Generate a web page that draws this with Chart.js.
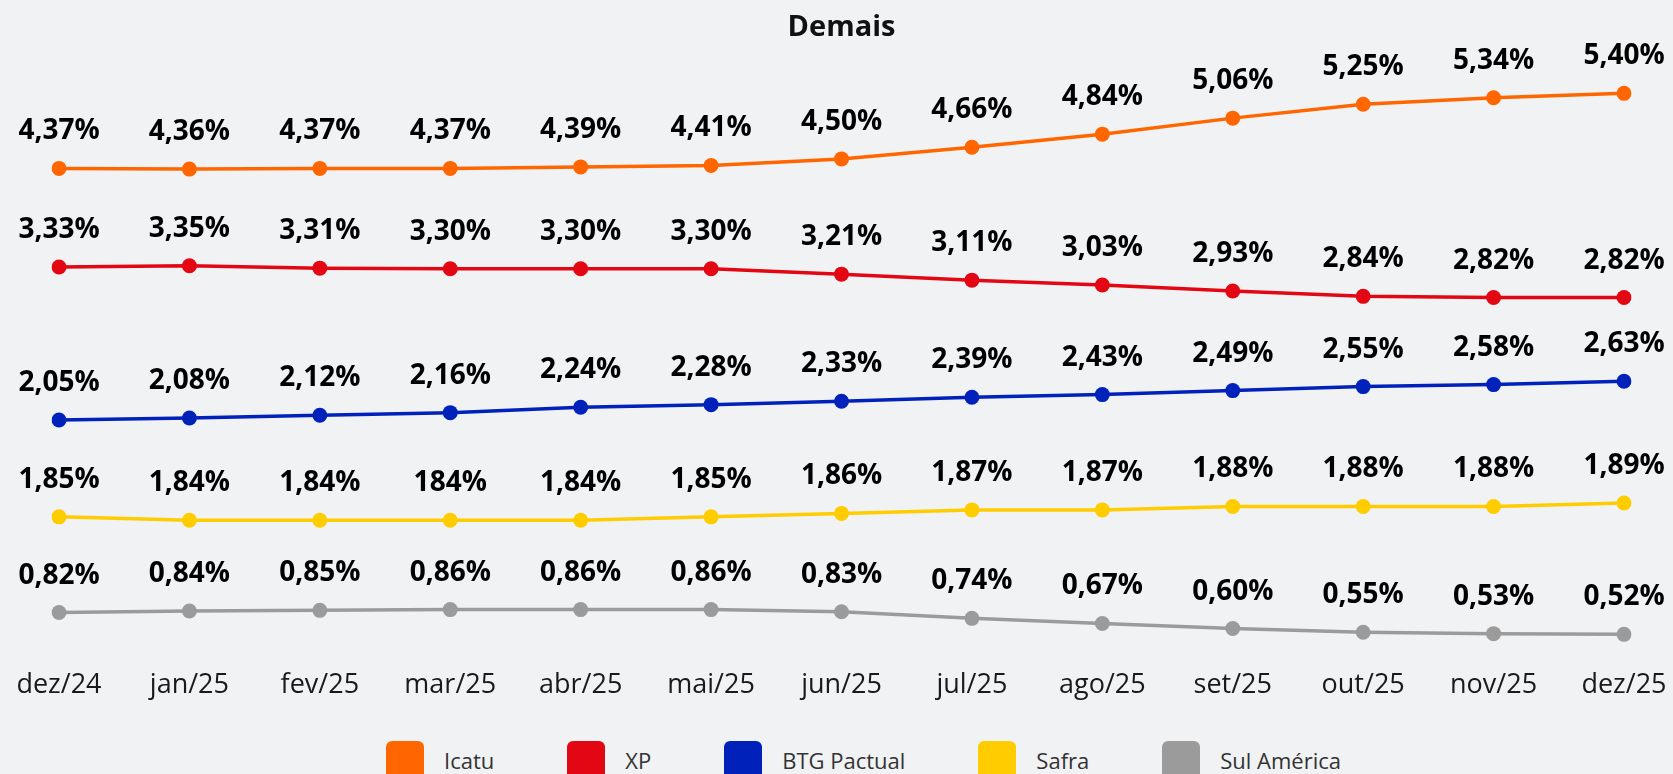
<!DOCTYPE html>
<html lang="pt-BR">
<head>
<meta charset="utf-8">
<title>Demais</title>
<script src="https://cdn.jsdelivr.net/npm/chart.js@4/dist/chart.umd.min.js"></script>
<style>
  html, body { margin: 0; padding: 0; background: #f1f2f4; overflow: hidden; }
  #wrap { position: relative; width: 1673px; height: 774px; }
  #legenda {
    position: absolute; left: 386px; top: 741px;
    display: flex; gap: 73px;
    font-family: "Open Sans", sans-serif; font-size: 22px; color: #333;
  }
  #legenda .item { display: flex; align-items: center; }
  #legenda .caixa { width: 38px; height: 38px; border-radius: 6px; margin-right: 20px; }
</style>
</head>
<body>
<div id="wrap">
  <canvas id="grafico" width="1673" height="735"></canvas>
  <div id="legenda"></div>
</div>
<script>
// meses do eixo x
var meses = ["dez/24", "jan/25", "fev/25", "mar/25", "abr/25", "mai/25", "jun/25",
             "jul/25", "ago/25", "set/25", "out/25", "nov/25", "dez/25"];

// valores (%) de cada seguradora
var icatu = [4.37, 4.36, 4.37, 4.37, 4.39, 4.41, 4.50, 4.66, 4.84, 5.06, 5.25, 5.34, 5.40];
var xp = [3.33, 3.35, 3.31, 3.30, 3.30, 3.30, 3.21, 3.11, 3.03, 2.93, 2.84, 2.82, 2.82];
var btg = [2.05, 2.08, 2.12, 2.16, 2.24, 2.28, 2.33, 2.39, 2.43, 2.49, 2.55, 2.58, 2.63];
var safra = [1.85, 1.84, 1.84, 1.84, 1.84, 1.85, 1.86, 1.87, 1.87, 1.88, 1.88, 1.88, 1.89];
var sulAmerica = [0.82, 0.84, 0.85, 0.86, 0.86, 0.86, 0.83, 0.74, 0.67, 0.60, 0.55, 0.53, 0.52];

// no original o rótulo de mar/25 da Safra saiu sem vírgula
var safraRotulos = safra.map(function (v) { return v.toFixed(2).replace(".", ",") + "%"; });
safraRotulos[3] = "184%";

var nomes = ["Icatu", "XP", "BTG Pactual", "Safra", "Sul América"];
var cores = ["#ff6600", "#e30613", "#0022bb", "#ffcc00", "#9b9b9b"];

function fmt(v) { return v.toFixed(2).replace(".", ",") + "%"; }

function serie(i, dados, eixo, rotulos) {
    return {
        label: nomes[i],
        data: dados,
        yAxisID: eixo,
        rotulos: rotulos || dados.map(fmt),
        borderColor: cores[i],
        backgroundColor: cores[i],
        borderWidth: 3.5,
        pointRadius: 7.5,
        pointHoverRadius: 7.5,
        pointBorderWidth: 0,
        tension: 0
    };
}

// cada série tem o seu próprio eixo (escondido), como no gráfico original
function eixoY(min, max) {
    return { display: false, min: min, max: max };
}

// desenha os valores em cima dos pontos
var rotulosPlugin = {
    id: "rotulos",
    afterDatasetsDraw: function (chart) {
        var c = chart.ctx;
        c.save();
        c.font = "bold 28px 'Open Sans', sans-serif";
        c.fillStyle = "#000";
        c.textAlign = "center";
        c.textBaseline = "alphabetic";
        chart.data.datasets.forEach(function (ds, i) {
            chart.getDatasetMeta(i).data.forEach(function (pt, j) {
                c.fillText(ds.rotulos[j], pt.x, pt.y - 29);
            });
        });
        c.restore();
    }
};

var ctx = document.getElementById("grafico");

var grafico = new Chart(ctx, {
    type: "line",
    data: {
        labels: meses,
        datasets: [
            serie(0, icatu, "yIcatu"),
            serie(1, xp, "yXp"),
            serie(2, btg, "yBtg"),
            serie(3, safra, "ySafra", safraRotulos),
            serie(4, sulAmerica, "ySul")
        ]
    },
    options: {
        responsive: false,
        animation: false,
        layout: {
            padding: { left: 59, right: 49, top: 0, bottom: 16 }
        },
        plugins: {
            legend: { display: false },
            tooltip: { enabled: false },
            title: {
                display: true,
                text: "Demais",
                color: "#111",
                font: { family: "'Open Sans', sans-serif", size: 29, weight: "bold" },
                padding: { top: 10, bottom: 7.5 }
            }
        },
        scales: {
            x: {
                grid: { display: false, drawTicks: false },
                border: { display: false },
                ticks: {
                    color: "#1a1a1a",
                    padding: 5,
                    maxRotation: 0,
                    autoSkip: false,
                    font: { family: "'Open Sans', sans-serif", size: 27, lineHeight: 2.1 }
                }
            },
            yIcatu: eixoY(-2.275, 5.964),
            yXp: eixoY(-3.094, 6.909),
            yBtg: eixoY(-1.430, 7.558),
            ySafra: eixoY(1.4584, 3.1929),
            ySul: eixoY(0.2738, 8.5126)
        }
    },
    plugins: [rotulosPlugin]
});

// legenda em html, abaixo do gráfico
var legenda = document.getElementById("legenda");
nomes.forEach(function (n, i) {
    var item = document.createElement("div");
    item.className = "item";
    var caixa = document.createElement("span");
    caixa.className = "caixa";
    caixa.style.background = cores[i];
    var txt = document.createElement("span");
    txt.textContent = n;
    item.appendChild(caixa);
    item.appendChild(txt);
    legenda.appendChild(item);
});
</script>
</body>
</html>
